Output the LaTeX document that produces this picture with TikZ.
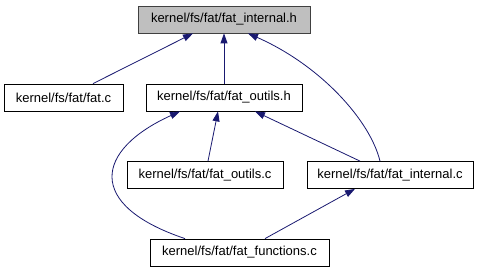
\documentclass[tikz,border=0pt]{standalone}
\usepackage{fontspec}
\setmainfont{Liberation Sans}
\usetikzlibrary{arrows.meta}
\definecolor{edgeblue}{HTML}{191970}
\definecolor{rootgray}{HTML}{BFBFBF}

\begin{document}
\begin{tikzpicture}[x=1pt, y=-1pt,
    file/.style={draw=black, line width=0.8pt, minimum height=27pt, inner sep=0pt,
      font=\fontsize{13}{15}\selectfont},
    dep/.style={draw=edgeblue, line width=0.8pt,
      {Triangle[length=10pt, width=7pt]}-}]
  \useasboundingbox (0,0) rectangle (480,272);

  % Header at the top
  \node[file, fill=rootgray, draw=black!75, minimum width=172pt] (internalh) at (224,19.5) {kernel/fs/fat/fat\_internal.h};

  % Second row
  \node[file, minimum width=119pt] (fatc) at (63.5,97.5) {kernel/fs/fat/fat.c};
  \node[file, minimum width=156pt] (outilsh) at (224,97.5) {kernel/fs/fat/fat\_outils.h};

  % Third row
  \node[file, minimum width=156pt] (outilsc) at (205,175) {kernel/fs/fat/fat\_outils.c};
  \node[file, minimum width=166pt] (internalc) at (390,175) {kernel/fs/fat/fat\_internal.c};

  % Bottom
  \node[file, minimum width=179pt] (functionsc) at (239.5,252.5) {kernel/fs/fat/fat\_functions.c};

  % Includes of fat_internal.h
  \draw[dep] ([xshift=-31pt]internalh.south) -- ([xshift=29.5pt]fatc.north);
  \draw[dep] (internalh.south) -- (outilsh.north);
  \draw[dep] ([xshift=24pt]internalh.south) .. controls (320,65) and (370,120) .. ([xshift=-10pt]internalc.north);

  % Includes of fat_outils.h
  \draw[dep] ([xshift=-6pt]outilsh.south) -- ([xshift=3pt]outilsc.north);
  \draw[dep] ([xshift=31pt]outilsh.south) -- ([xshift=-30pt]internalc.north);
  \draw[dep] ([xshift=-44pt]outilsh.south) .. controls (95,150) and (85,205) .. ([xshift=-54.5pt]functionsc.north);

  % Include of fat_internal.c
  \draw[dep] ([xshift=-35pt]internalc.south) -- ([xshift=25.5pt]functionsc.north);
\end{tikzpicture}
\end{document}
